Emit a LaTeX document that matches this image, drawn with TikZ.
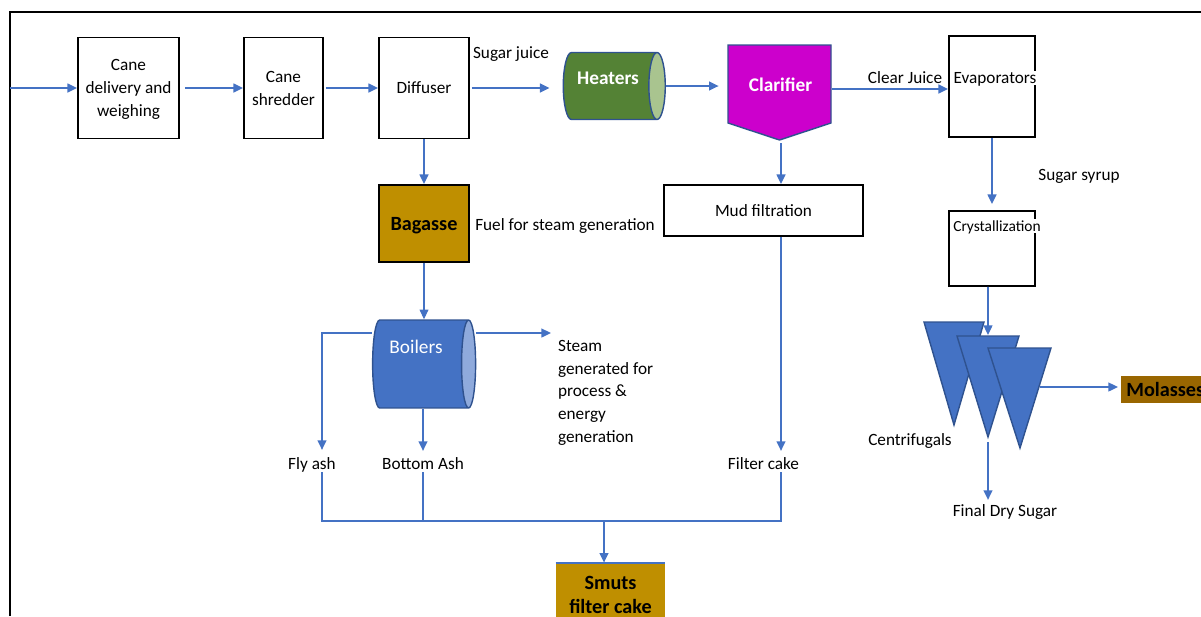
\documentclass[tikz,border=0pt]{standalone}
\usepackage{fontspec}
\setmainfont{Carlito}
\usetikzlibrary{arrows.meta, positioning, shapes.geometric, calc}

\definecolor{flow}{HTML}{4472C4}
\definecolor{edge}{HTML}{2F528F}
\definecolor{heatbody}{HTML}{548235}
\definecolor{heatend}{HTML}{A9C48F}
\definecolor{boilend}{HTML}{8FAADC}
\definecolor{clarfill}{HTML}{CC00CC}
\definecolor{fuel}{HTML}{BF8F00}
\definecolor{molas}{HTML}{996600}

\begin{document}
\begin{tikzpicture}[
    x=0.02cm, y=-0.02cm,
    font=\fontsize{9.8}{13}\selectfont,
    box/.style={draw, line width=1.1pt, align=center, inner sep=2pt, text depth=0pt},
    fuelbox/.style={fill=fuel, align=center, text depth=0pt, font=\fontsize{11.5}{14}\selectfont\bfseries},
    drum/.style={cylinder, draw=edge, line width=0.8pt, aspect=1.3, cylinder uses custom fill},
    cone/.style={fill=flow, draw=edge, line width=0.8pt},
    tag/.style={align=center, inner sep=1pt, text depth=0pt},
    whitetag/.style={text=white, text depth=0pt, font=\fontsize{11}{13}\selectfont},
    line/.style={-{Triangle[length=5.5pt, width=5pt]}, draw=flow, line width=1.1pt},
    link/.style={draw=flow, line width=1.1pt}
]
\useasboundingbox (0,0) rectangle (1201,616);
\draw[line width=1.2pt] (10,616) -- (10,12) -- (1201,12);

\coordinate (feed) at (10,88);
\node[box, minimum width=2.02cm, minimum height=2.02cm] (cane) at (128.5,88) {Cane\\delivery and\\weighing};
\node[box, minimum width=1.58cm, minimum height=2.02cm] (shred) at (283.5,88) {Cane\\shredder};
\node[box, minimum width=1.8cm, minimum height=2.02cm] (diff) at (424,88) {Diffuser};
\node[tag] (juice) at (511,53) {Sugar juice};

\node[drum, aspect=1.4, cylinder body fill=heatbody, cylinder end fill=heatend, minimum height=2.04cm, minimum width=1.34cm] (heat) at (607.5,86) {};
\node[whitetag, font=\fontsize{11}{13}\selectfont\bfseries] (heattxt) at (608,78) {Heaters};

\filldraw[fill=clarfill, draw=edge, line width=0.8pt] (728,45) -- (831,45) -- (831,123) -- (779.5,140) -- (728,123) -- cycle;
\node[whitetag, font=\fontsize{11}{13}\selectfont\bfseries, minimum width=2.06cm, minimum height=1.56cm] (clar) at (780.5,85) {Clarifier};
\coordinate (clartip) at (781,143);

\node[tag] (clear) at (905,78) {Clear Juice};
\node[box, minimum width=1.72cm, minimum height=2.02cm] (evap) at (992,86.5) {};
\node[tag, fill=white] (evaptxt) at (995,78) {Evaporators};
\node[tag] (syrup) at (1079,175) {Sugar syrup};
\node[box, minimum width=1.72cm, minimum height=1.5cm] (cryst) at (992,248.5) {};
\node[tag, fill=white, font=\fontsize{8.8}{11}\selectfont] (crysttxt) at (997,226) {Crystallization};

\filldraw[cone] (924,322) -- (984,322) -- (954,425) -- cycle;
\filldraw[cone] (957,336) -- (1019,336) -- (988,437) -- cycle;
\filldraw[cone] (988,348) -- (1051,348) -- (1020,448) -- cycle;
\coordinate (cfeed) at (988,335);
\coordinate (csugar) at (988,442);
\coordinate (cmol) at (1040,387);
\node[tag] (cent) at (910,440) {Centrifugals};
\node[tag] (dry) at (1005,511) {Final Dry Sugar};
\node[fuelbox, fill=molas, anchor=west, minimum height=0.54cm, inner xsep=0.1cm] (mol) at (1121,389.5) {Molasses};

\node[box, minimum width=3.98cm, minimum height=1.02cm] (mud) at (763.5,210.5) {Mud filtration};
\node[box, fuelbox, minimum width=1.8cm, minimum height=1.54cm] (bag) at (424,223.5) {Bagasse};
\node[tag] (fuel) at (565,225) {Fuel for steam generation};

\node[drum, aspect=1.2, cylinder body fill=flow, cylinder end fill=boilend, minimum height=2.06cm, minimum width=1.76cm] (boil) at (418.5,364) {};
\node[whitetag] (boiltxt) at (416,347) {Boilers};
\node[tag, align=left, anchor=north west] (steam) at (556,338) {Steam\\generated for\\process \&\\energy\\generation};

\node[tag] (fly) at (312,464) {Fly ash};
\node[tag] (bash) at (423,464) {Bottom Ash};
\node[tag] (fcake) at (763.5,464) {Filter cake};
\coordinate (bus) at (604,521);
\node[fuelbox, minimum width=2.18cm, minimum height=1.28cm] (smuts) at (610.5,595) {Smuts\\filter cake};

\draw[line] (feed) -- (cane);
\draw[line] ([xshift=0.1cm]cane.east) -- (shred);
\draw[line] ([xshift=0.04cm]shred.east) -- (diff);
\draw[line, shorten >=0.26cm] ([xshift=0.04cm]diff.east) -- (diff.east -| heat.west);
\draw[line, shorten >=0.2cm] (heat.east) -- (heat.east -| clar.west);
\draw[line] ([yshift=-0.08cm]clar.east) -- ([yshift=-0.08cm]clar.east -| evap.west);
\draw[line] (clartip) -- (clartip |- mud.north);
\draw[line, shorten >=0.12cm] (evap) -- (cryst);
\draw[line] ([xshift=-0.08cm]cryst.south) -- (cfeed);
\draw[line, shorten >=0.06cm] (cmol) -- (cmol -| mol.west);
\draw[line, shorten >=0.06cm] (csugar) -- (csugar |- dry.north);
\draw[line] (diff) -- (bag);
\draw[line, line width=0.6pt] (bag) -- (bag |- boil.north);
\draw[line, shorten >=0.1cm] ([yshift=0.62cm]boil.east) -- ([yshift=0.62cm]boil.east -| steam.west);
\draw[line, shorten >=0.12cm] ([yshift=0.62cm]boil.west) -| ([xshift=0.2cm]fly.north);
\draw[line, shorten >=0.1cm] (bash.north |- boil.south) -- (bash.north);
\draw[line, shorten >=0.1cm] ([xshift=0.35cm]mud.south) -- ([xshift=0.35cm]fcake.north);
\draw[link] ([xshift=0.2cm]fly.south) |- (bus) -| ([xshift=0.35cm]fcake.south);
\draw[link] (bash.south) -- (bash.south |- bus);
\draw[line] (bus) -- (bus |- smuts.north);
\draw[link] (smuts.north west) -- (smuts.north east);

\end{tikzpicture}
\end{document}
